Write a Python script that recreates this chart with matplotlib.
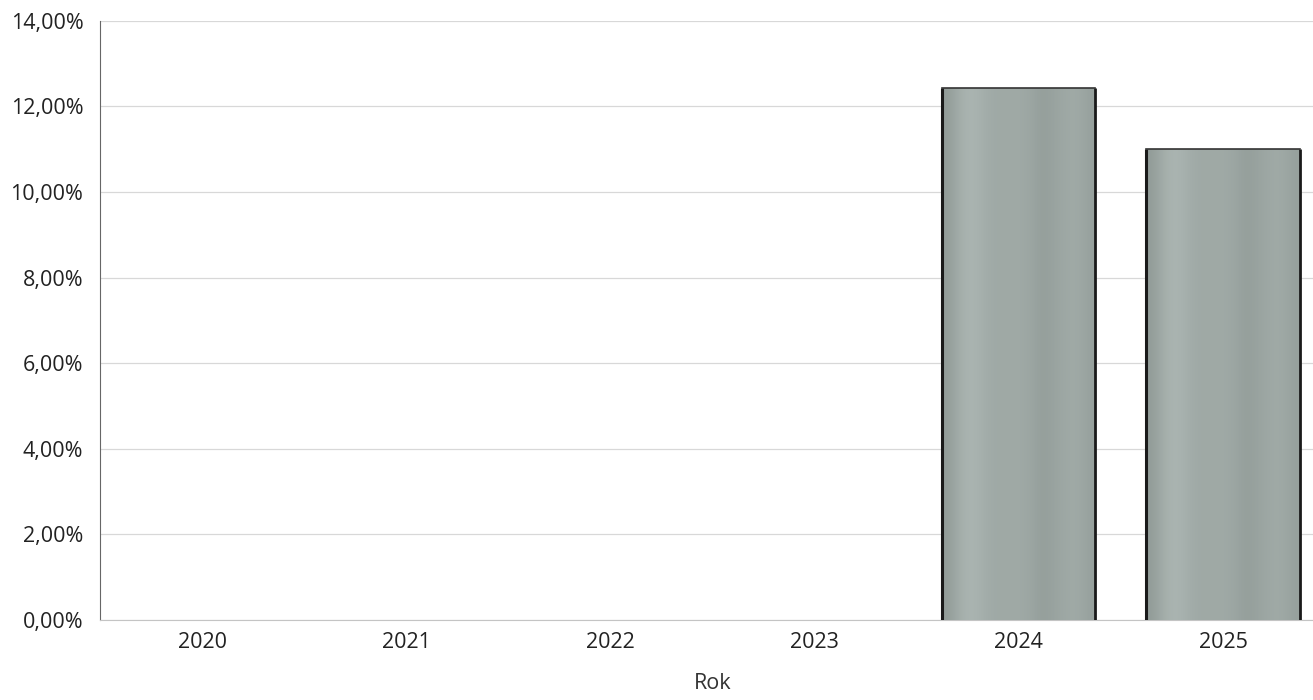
"""
Bar chart: share per year (Rok)
"""

import numpy as np
import matplotlib.pyplot as plt
from matplotlib.ticker import FuncFormatter
from matplotlib.colors import LinearSegmentedColormap

# data
years = ['2020', '2021', '2022', '2023', '2024', '2025']
values = [0.0, 0.0, 0.0, 0.0, 12.43, 11.0]   # in percent
y_ticks = [0, 2, 4, 6, 8, 10, 12, 14]

plt.rcParams['font.family'] = ['Open Sans', 'DejaVu Sans']

fig = plt.figure(figsize=(13.13, 7.0), dpi=100)
ax = fig.add_axes([0.0762, 0.1143, 0.933, 0.856])

x = np.arange(len(years))
bars = ax.bar(x, values, width=0.75, color='#a2aca8', linewidth=0, zorder=3)

# scanned-looking shading across each bar
cmap = LinearSegmentedColormap.from_list('scan', ['#7f8985', '#b4bebb'])
prof = np.array([0.35, 0.7, 0.85, 0.7, 0.6, 0.6, 0.62, 0.55, 0.4, 0.5, 0.6, 0.62, 0.45])
for b in bars:
    if b.get_height() <= 0:
        continue
    x0, w, h = b.get_x(), b.get_width(), b.get_height()
    img = ax.imshow(prof[np.newaxis, :], cmap=cmap, vmin=0, vmax=1, aspect='auto',
                    extent=(x0, x0 + w, 0, h), zorder=3.5, interpolation='bicubic')
    img.set_clip_path(b)
    # dark sides, thinner top
    ax.plot([x0, x0], [0, h], color='#1a1a1a', linewidth=2.2, zorder=4, solid_capstyle='butt')
    ax.plot([x0 + w, x0 + w], [0, h], color='#1a1a1a', linewidth=2.0, zorder=4, solid_capstyle='butt')
    ax.plot([x0, x0 + w], [h, h], color='#333333', linewidth=1.2, zorder=4)

ax.set_xlim(-0.5, len(years) - 0.5)
ax.set_ylim(0, 14)
ax.set_yticks(y_ticks)
ax.yaxis.set_major_formatter(FuncFormatter(lambda v, p: f'{v:.2f}%'.replace('.', ',')))
ax.set_xticks(x)
ax.set_xticklabels(years)
ax.grid(axis='y', color='#d8d8d8', linewidth=0.9, zorder=0)
ax.tick_params(axis='both', length=0, labelsize=15.5, colors='#222222')
ax.tick_params(axis='y', pad=12)
ax.tick_params(axis='x', pad=9)

for s in ['top', 'right']:
    ax.spines[s].set_visible(False)
ax.spines['left'].set_color('#666666')
ax.spines['bottom'].set_color('#c4c4c4')

ax.set_xlabel('Rok', fontsize=15.5, color='#333333', labelpad=14)

plt.savefig('out.png', dpi=100)
